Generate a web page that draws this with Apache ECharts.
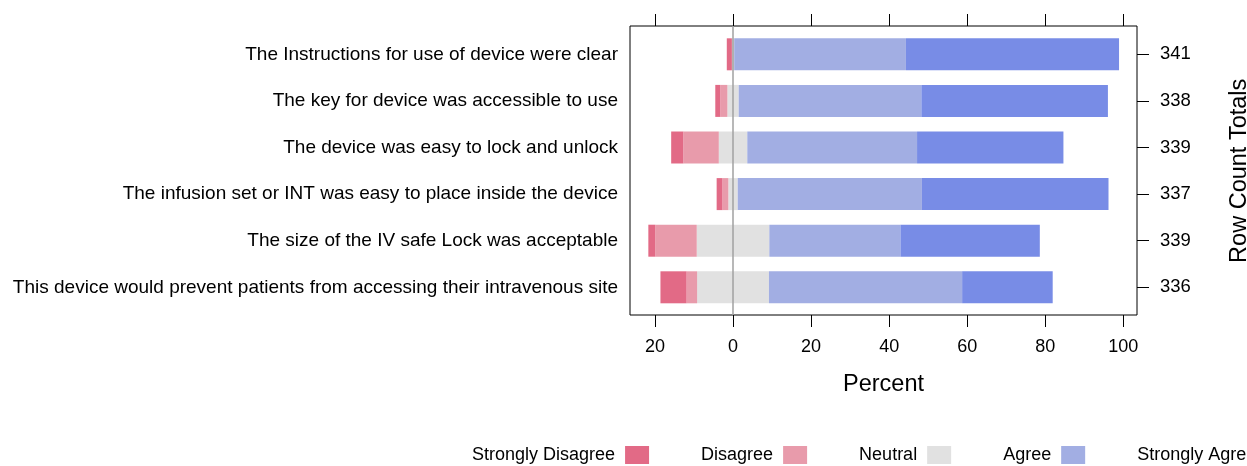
<!DOCTYPE html>
<html>
<head>
<meta charset="utf-8">
<script src="https://cdn.jsdelivr.net/npm/echarts@6/dist/echarts.min.js"></script>
<style>
  html, body { margin: 0; padding: 0; background: #fff; }
  #chart { width: 1247px; height: 466px; }
</style>
</head>
<body>
<div id="chart"></div>
<script>
// questions, top to bottom
const questions = [
  'The Instructions for use of device were clear',
  'The key for device was accessible to use',
  'The device was easy to lock and unlock',
  'The infusion set or INT was easy to place inside the device',
  'The size of the IV safe Lock was acceptable',
  'This device would prevent patients from accessing their intravenous site'
]
const rowTotals = [341, 338, 339, 337, 339, 336]

// percent of answers per level
const stronglyDisagree = [1.3, 1.3, 3.1, 1.5, 1.8, 6.7]
const disagree = [0.0, 1.8, 9.1, 1.5, 10.6, 2.7]
const neutral = [0.6, 2.9, 7.3, 2.4, 18.6, 18.4]
const agree = [44.0, 46.8, 43.5, 47.2, 33.6, 49.5]
const stronglyAgree = [54.6, 47.8, 37.5, 47.8, 35.7, 23.2]

const xTicks = [-20, 0, 20, 40, 60, 80, 100]
const levels = ['Strongly Disagree', 'Disagree', 'Neutral', 'Agree', 'Strongly Agree']

const colors = {
  sd: '#E26A86',
  d: '#E89BAB',
  n: '#E1E1E1',
  a: '#A2AEE3',
  sa: '#788CE6',
}

const font = 'Liberation Sans, Arial, sans-serif'
const xMin = -26.4
const xMax = 103.5

const chart = echarts.init(document.getElementById('chart'))

// neutral is split in two halves around zero
const neutralLeft = neutral.map((v) => -v / 2)
const neutralRight = neutral.map((v) => v / 2)

function bar(name, data, color) {
  return {
    name: name,
    type: 'bar',
    stack: 'likert',
    xAxisIndex: 0,
    yAxisIndex: 0,
    barWidth: 32,
    itemStyle: { color: color },
    emphasis: { disabled: true },
    data: data,
  }
}

const option = {
  animation: false,
  textStyle: { fontFamily: font, color: '#000' },
  color: [colors.sd, colors.d, colors.n, colors.a, colors.sa],
  grid: [
    // bars
    { left: 630, top: 31, width: 507, height: 279.6, outerBoundsMode: 'none', containLabel: false },
    // frame
    {
      left: 630, top: 26, width: 507, height: 289,
      outerBoundsMode: 'none', containLabel: false,
      show: true, borderColor: '#000', borderWidth: 1, backgroundColor: 'transparent',
    },
  ],
  legend: {
    data: levels,
    left: 472,
    top: 446,
    width: 1400,
    padding: 0,
    align: 'right',
    itemWidth: 24,
    itemHeight: 18,
    itemGap: 52,
    icon: 'rect',
    formatter: '{name} ',
    textStyle: { fontSize: 18, color: '#000', fontFamily: font },
  },
  xAxis: [
    { gridIndex: 0, type: 'value', min: xMin, max: xMax, show: false },
    {
      gridIndex: 1,
      type: 'value',
      position: 'bottom',
      min: xMin,
      max: xMax,
      axisLine: { show: false },
      axisTick: { show: true, length: 12, customValues: xTicks, lineStyle: { color: '#000' } },
      axisLabel: {
        customValues: xTicks,
        fontSize: 18,
        color: '#000',
        margin: 23.5,
        formatter: (v) => Math.abs(v),
      },
      splitLine: { show: false },
      name: 'Percent',
      nameLocation: 'middle',
      nameGap: 58,
      nameTextStyle: { fontSize: 23.5, color: '#000' },
    },
    {
      gridIndex: 1,
      type: 'value',
      position: 'top',
      min: xMin,
      max: xMax,
      axisLine: { show: false },
      axisTick: { show: true, length: 12, customValues: xTicks, lineStyle: { color: '#000' } },
      axisLabel: { show: false },
      splitLine: { show: false },
    },
  ],
  yAxis: [
    {
      gridIndex: 0,
      type: 'category',
      data: questions,
      inverse: true,
      axisLine: { show: false },
      axisTick: { show: false },
      axisLabel: { fontSize: 19, color: '#000', margin: 12 },
    },
    {
      gridIndex: 0,
      type: 'category',
      position: 'right',
      data: rowTotals,
      inverse: true,
      axisLine: { show: false },
      axisTick: { show: true, length: 12, alignWithLabel: true, lineStyle: { color: '#000' } },
      axisLabel: { fontSize: 18.5, color: '#000', margin: 23 },
      name: 'Row Count Totals',
      nameLocation: 'middle',
      nameGap: 91,
      nameTextStyle: { fontSize: 23.5, color: '#000' },
    },
    { gridIndex: 1, type: 'value', min: 0, max: 1, show: false },
  ],
  series: [
    // inner segments first so they sit next to zero
    bar('Neutral', neutralLeft, colors.n),
    bar('Neutral', neutralRight, colors.n),
    bar('Disagree', disagree.map((v) => -v), colors.d),
    bar('Agree', agree, colors.a),
    bar('Strongly Disagree', stronglyDisagree.map((v) => -v), colors.sd),
    bar('Strongly Agree', stronglyAgree, colors.sa),
    // zero reference line
    {
      type: 'line',
      xAxisIndex: 1,
      yAxisIndex: 2,
      data: [],
      z: 10,
      markLine: {
        silent: true,
        symbol: 'none',
        label: { show: false },
        lineStyle: { color: '#a0a0a0', width: 1.5, type: 'solid' },
        data: [{ xAxis: 0 }],
      },
    },
  ],
}

chart.setOption(option)
</script>
</body>
</html>
